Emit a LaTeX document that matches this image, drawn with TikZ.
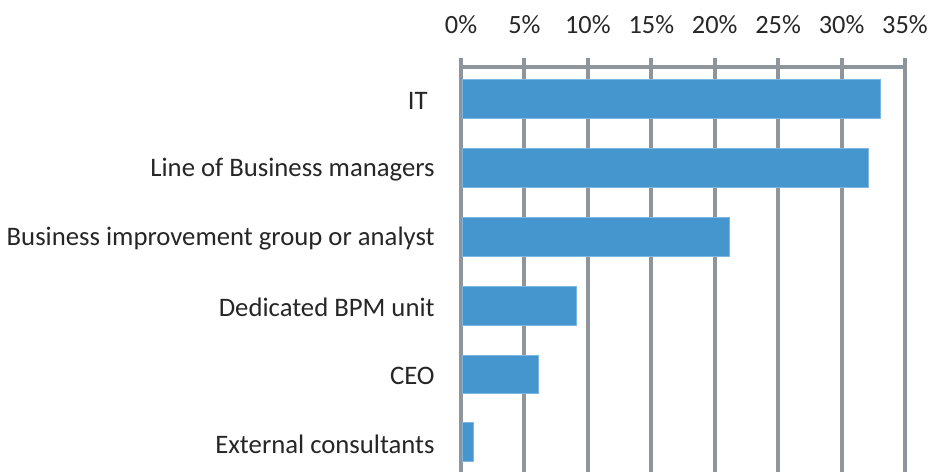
\documentclass[tikz,border=0pt]{standalone}
\usepackage{fontspec}
\setmainfont{Carlito}
\usepackage{tikz}
\usetikzlibrary{positioning}
\definecolor{barblue}{HTML}{4596CE}
\definecolor{baredge}{HTML}{7DB6E0}
\definecolor{gridgray}{HTML}{8E959C}
\definecolor{labelgray}{HTML}{262626}

\begin{document}
\begin{tikzpicture}[x=0.02cm,y=-0.02cm,
  grid/.style={draw=gridgray,line width=2.2pt},
  bar/.style={fill=barblue,draw=baredge,line width=0.4pt},
  cat/.style={anchor=east,inner sep=0pt,text=labelgray,font=\fontsize{15.2}{17}\selectfont},
  tick/.style={anchor=base,inner sep=0pt,text=labelgray,font=\fontsize{15}{17}\selectfont}]
\useasboundingbox (0,0) rectangle (932,472);
% grid and axis
\foreach \p/\x in {0/461,5/524.4,10/587.9,15/651.3,20/714.7,25/778.1,30/841.6,35/905}{
  \coordinate (g\p) at (\x,58);
  \coordinate (b\p) at (\x,472);
  \path[grid] (g\p) -- (b\p);
  \node[tick] (t\p) at (\x,34) {\p\%};
}
\path[grid] (g0 |- 0,67) -- (g35 |- 0,67);
% bars
\fill[bar] (462,79.5) rectangle (880,118) coordinate (it);
\fill[bar] (462,148) rectangle (868,187) coordinate (lob);
\fill[bar] (462,217) rectangle (729,256) coordinate (big);
\fill[bar] (462,286) rectangle (576,325) coordinate (bpm);
\fill[bar] (462,355) rectangle (538,393) coordinate (ceo);
\fill[bar] (462,422) rectangle (473,461) coordinate (ext);
% labels
\node[cat] (lit) at (428,101) {IT};
\node[cat] (llob) at (435,170) {Line of Business managers};
\node[cat] (lbig) at (435,239) {Business improvement group or analyst};
\node[cat] (lbpm) at (435,307) {Dedicated BPM unit};
\node[cat] (lceo) at (435,376) {CEO};
\node[cat] (lext) at (435,444) {External consultants};
\end{tikzpicture}
\end{document}
